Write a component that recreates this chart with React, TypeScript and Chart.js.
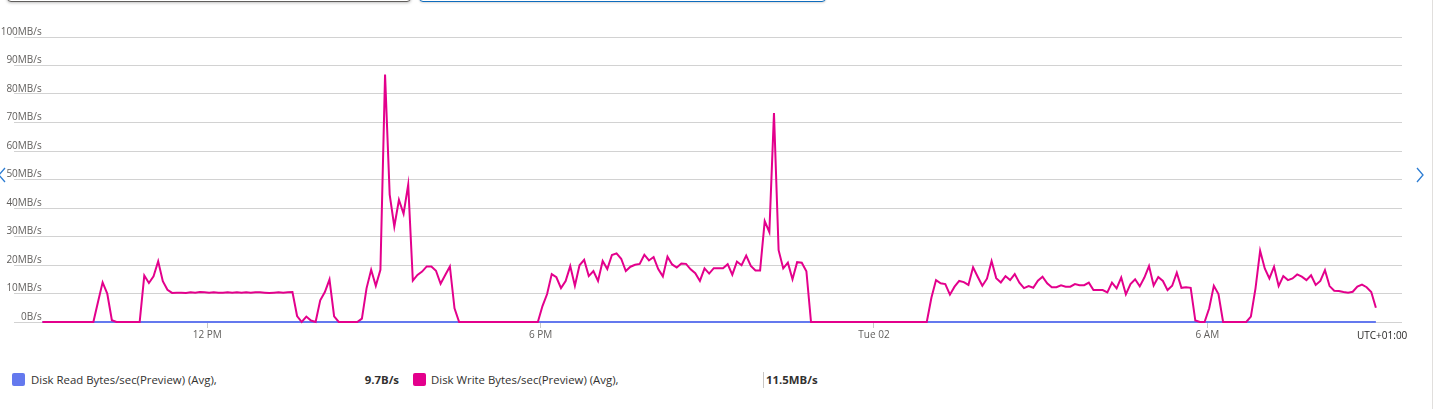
import React, { useEffect, useRef } from "react";
import { Chart, registerables } from "chart.js";

Chart.register(...registerables);

// Time grid: one sample every 5 minutes, starting Monday 09:02 (minutes from Monday 00:00)
const startMinute = 542;
const stepMinutes = 5;

// Disk Write Bytes/sec (Avg), MB/s
const writeValues = [
  0, 0, 0, 0, 0, 0, 0, 0, 0, 0, 0, 0,
  7.0, 13.9, 10.0, 0.6,
  0, 0, 0, 0, 0, 0,
  16.3, 13.7, 16.0, 21.3, 14.3, 11.3,
  10.2, 10.3, 10.3, 10.2, 10.4, 10.3, 10.5, 10.4, 10.3, 10.4, 10.3, 10.3, 10.4, 10.3,
  10.4, 10.3, 10.4, 10.3, 10.4, 10.4, 10.3, 10.2, 10.3, 10.4, 10.3, 10.4, 10.5,
  2.1, 0, 1.9, 0.5, 0, 7.6, 10.5, 14.9, 2.0,
  0, 0, 0, 0, 0,
  1.2, 11.8, 18.3, 12.7, 18.3, 86.8, 44.7, 33.5, 42.9, 38.0, 48.2, 14.5, 16.5, 17.7,
  19.5, 19.5, 18.0, 13.4, 16.5, 19.5, 4.8,
  0, 0, 0, 0, 0, 0, 0, 0, 0, 0, 0, 0, 0, 0, 0, 0, 0, 0,
  5.6, 9.8, 16.8, 15.7, 11.9, 14.4, 19.6, 12.7, 19.9, 21.8, 16.1, 17.9, 14.4, 21.4,
  18.6, 23.5, 24.1, 22.2, 17.9, 19.4, 20.1, 20.4, 23.6, 21.6, 22.8, 18.6, 16.0, 22.9,
  20.2, 19.1, 20.5, 20.4, 18.5, 17.1, 14.4, 18.8, 17.0,
  18.9, 18.9, 18.9, 20.3, 16.6, 21.2, 19.9, 23.3, 19.7, 18.1, 18.1, 35.4, 31.5, 73.3,
  25.2, 18.8, 20.8, 15.0, 21.0, 20.8, 17.8,
  0, 0, 0, 0, 0, 0, 0, 0, 0, 0, 0, 0, 0, 0, 0, 0, 0, 0, 0, 0, 0, 0, 0, 0, 0, 0,
  8.5, 14.7, 13.6, 13.3, 9.6, 12.4, 14.4, 14.0, 13.0, 19.2,
  15.9, 12.7, 15.2, 21.4, 15.4, 13.9, 16.1, 14.7, 16.8, 13.8,
  11.9, 12.6, 12.0, 14.5, 15.9, 13.6, 12.2, 12.2, 12.9, 12.4,
  12.4, 13.3, 12.9, 12.9, 13.8, 11.2, 11.2, 11.2, 10.4, 13.8,
  11.8, 15.6, 9.7, 13.3, 15.0, 12.5, 15.6, 19.6, 12.8, 15.8,
  14.4, 11.2, 12.7, 17.3, 12.0, 12.2, 12.0, 0.5, 0, 0, 4.8, 12.7, 9.8,
  0, 0, 0, 0, 0, 0,
  1.9, 11.8, 25.0, 18.8, 15.3, 19.4, 12.6, 16.1, 14.7, 15.3,
  16.7, 15.9, 14.7, 16.4, 13.0, 14.4, 18.2, 12.6, 11.0, 10.9,
  10.5, 10.3, 10.6, 12.4, 13.1, 12.2, 10.5, 5.0,
];

// Disk Read Bytes/sec (Avg), MB/s (reads are ~9.7 B/s, i.e. 0 on this scale)
const readValues = [
  0, 0, 0, 0, 0, 0, 0, 0, 0, 0, 0, 0, 0, 0, 0, 0, 0, 0, 0, 0,
  0, 0, 0, 0, 0, 0, 0, 0, 0, 0, 0, 0, 0, 0, 0, 0, 0, 0, 0, 0,
  0, 0, 0, 0, 0, 0, 0, 0, 0, 0, 0, 0, 0, 0, 0, 0, 0, 0, 0, 0,
  0, 0, 0, 0, 0, 0, 0, 0, 0, 0, 0, 0, 0, 0, 0, 0, 0, 0, 0, 0,
  0, 0, 0, 0, 0, 0, 0, 0, 0, 0, 0, 0, 0, 0, 0, 0, 0, 0, 0, 0,
  0, 0, 0, 0, 0, 0, 0, 0, 0, 0, 0, 0, 0, 0, 0, 0, 0, 0, 0, 0,
  0, 0, 0, 0, 0, 0, 0, 0, 0, 0, 0, 0, 0, 0, 0, 0, 0, 0, 0, 0,
  0, 0, 0, 0, 0, 0, 0, 0, 0, 0, 0, 0, 0, 0, 0, 0, 0, 0, 0, 0,
  0, 0, 0, 0, 0, 0, 0, 0, 0, 0, 0, 0, 0, 0, 0, 0, 0, 0, 0, 0,
  0, 0, 0, 0, 0, 0, 0, 0, 0, 0, 0, 0, 0, 0, 0, 0, 0, 0, 0, 0,
  0, 0, 0, 0, 0, 0, 0, 0, 0, 0, 0, 0, 0, 0, 0, 0, 0, 0, 0, 0,
  0, 0, 0, 0, 0, 0, 0, 0, 0, 0, 0, 0, 0, 0, 0, 0, 0, 0, 0, 0,
  0, 0, 0, 0, 0, 0, 0, 0, 0, 0, 0, 0, 0, 0, 0, 0, 0, 0, 0, 0,
  0, 0, 0, 0, 0, 0, 0, 0, 0, 0, 0, 0, 0, 0, 0, 0, 0, 0, 0, 0,
  0, 0, 0, 0, 0, 0, 0, 0, 0,
];

// X axis (minutes from Monday 00:00)
const axisMinMinute = 511.3;
const axisMaxMinute = 2010.2;
const tickMinutes = [720, 1080, 1440, 1800];
const tickLabels = ["12 PM", "6 PM", "Tue 02", "6 AM"];
const timezoneLabel = "UTC+01:00";

// Y axis (MB/s)
const yMax = 100;
const yStep = 10;

const seriesNames = ["Disk Read Bytes/sec(Preview) (Avg),", "Disk Write Bytes/sec(Preview) (Avg),"];
const seriesSummaries = ["9.7B/s", "11.5MB/s"];
const seriesColors = ["#6479EE", "#E3008C"];

const FONT = '"Segoe UI", "Open Sans", "Noto Sans", sans-serif';
const TICK_SIZE = 10;

const yLabel = (v: number) => (v === 0 ? "0B/s" : `${v}MB/s`);

export default function App() {
  const canvasRef = useRef<HTMLCanvasElement | null>(null);

  useEffect(() => {
    const canvas = canvasRef.current;
    if (!canvas) return;
    const times = writeValues.map((_, i) => startMinute + i * stepMinutes);

    // right edge of the y labels sits at x ≈ 41.7; axis box ends at x = 14
    const ctx2d = canvas.getContext("2d")!;
    ctx2d.font = `${TICK_SIZE}px ${FONT}`;
    const widest = ctx2d.measureText(yLabel(yMax)).width;
    const yPad = 41.7 - 14 - widest;

    const chart = new Chart(canvas, {
      type: "line",
      data: {
        datasets: [
          {
            label: seriesNames[0],
            data: readValues.map((v, i) => ({ x: times[i], y: v })),
            borderColor: seriesColors[0],
            backgroundColor: seriesColors[0],
            borderWidth: 2,
            pointRadius: 0,
            tension: 0,
            clip: 2,
            order: 1,
          },
          {
            label: seriesNames[1],
            data: writeValues.map((v, i) => ({ x: times[i], y: v })),
            borderColor: seriesColors[1],
            backgroundColor: seriesColors[1],
            borderWidth: 2,
            pointRadius: 0,
            tension: 0,
            clip: 2,
            order: 0,
          },
        ],
      },
      options: {
        animation: false,
        responsive: false,
        maintainAspectRatio: false,
        layout: { padding: { left: 0, right: 32, top: 37, bottom: 10 } },
        plugins: { legend: { display: false }, tooltip: { enabled: false } },
        scales: {
          x: {
            type: "linear",
            min: axisMinMinute,
            max: axisMaxMinute,
            afterBuildTicks: (scale: any) => {
              scale.ticks = tickMinutes.map((v) => ({ value: v }));
            },
            afterFit: (scale: any) => {
              scale.height = 28;
            },
            grid: { drawOnChartArea: false, drawTicks: true, tickLength: 6, color: "#c8c8c8" },
            border: { display: false },
            ticks: {
              autoSkip: false,
              maxRotation: 0,
              padding: 1,
              color: "#605e5c",
              font: { family: FONT, size: TICK_SIZE },
              callback: (_v: any, index: number) => tickLabels[index],
            },
          },
          y: {
            min: 0,
            max: yMax,
            afterFit: (scale: any) => {
              scale.width = 14;
            },
            grid: { drawTicks: false, color: "#d2d2d2" },
            border: { display: false },
            ticks: {
              stepSize: yStep,
              mirror: true,
              crossAlign: "far",
              padding: yPad,
              labelOffset: -5,
              color: "#605e5c",
              font: { family: FONT, size: TICK_SIZE },
              callback: (v: any) => yLabel(Number(v)),
            },
          },
        },
      },
    });
    return () => chart.destroy();
  }, []);

  const chevron = (dir: "left" | "right") => (
    <svg width="8" height="16" viewBox="0 0 8 16" style={{ display: "block" }}>
      <polyline
        points={dir === "left" ? "7,1 1,8 7,15" : "1,1 7,8 1,15"}
        fill="none"
        stroke="#2b7cd3"
        strokeWidth="1.3"
      />
    </svg>
  );

  const legendText: React.CSSProperties = {
    position: "absolute",
    top: 372,
    fontSize: 11.4,
    color: "#323130",
    whiteSpace: "nowrap",
  };

  return (
    <div
      style={{
        position: "absolute",
        left: 0,
        top: 0,
        width: 1434,
        height: 409,
        background: "#fff",
        overflow: "hidden",
        fontFamily: FONT,
      }}
    >
      {/* top buttons (cut off) */}
      <div
        style={{
          position: "absolute",
          left: 7,
          top: -22,
          width: 402,
          height: 22,
          border: "1px solid #605e5c",
          borderRadius: 4,
          boxShadow: "0 1px 3px rgba(0,0,0,0.25)",
          background: "#fff",
        }}
      />
      <div
        style={{
          position: "absolute",
          left: 419,
          top: -22,
          width: 405,
          height: 22,
          border: "1px solid #0f6cbd",
          borderRadius: 4,
          boxShadow: "0 1px 2px rgba(0,0,0,0.15)",
          background: "#fff",
        }}
      />
      <canvas ref={canvasRef} width={1434} height={360} style={{ position: "absolute", left: 0, top: 0 }} />
      <div style={{ position: "absolute", left: 1357, top: 328, fontSize: 10, color: "#201f1e", whiteSpace: "nowrap" }}>
        {timezoneLabel}
      </div>
      <div style={{ position: "absolute", left: -2, top: 167 }}>{chevron("left")}</div>
      <div style={{ position: "absolute", left: 1416, top: 167 }}>{chevron("right")}</div>
      <div style={{ position: "absolute", left: 1432, top: 0, width: 1, height: 409, background: "#e1dfdd" }} />
      {/* legend */}
      <div style={{ position: "absolute", left: 12, top: 373, width: 13, height: 13, borderRadius: 2, background: seriesColors[0] }} />
      <div style={{ ...legendText, left: 31 }}>{seriesNames[0]}</div>
      <div style={{ ...legendText, left: 300, width: 99, textAlign: "right", fontWeight: 700 }}>{seriesSummaries[0]}</div>
      <div style={{ position: "absolute", left: 413, top: 373, width: 13, height: 13, borderRadius: 2, background: seriesColors[1] }} />
      <div style={{ ...legendText, left: 431 }}>{seriesNames[1]}</div>
      <div style={{ position: "absolute", left: 763, top: 372, width: 1, height: 16, background: "#c8c6c4" }} />
      <div style={{ ...legendText, left: 766, fontWeight: 700 }}>{seriesSummaries[1]}</div>
    </div>
  );
}
